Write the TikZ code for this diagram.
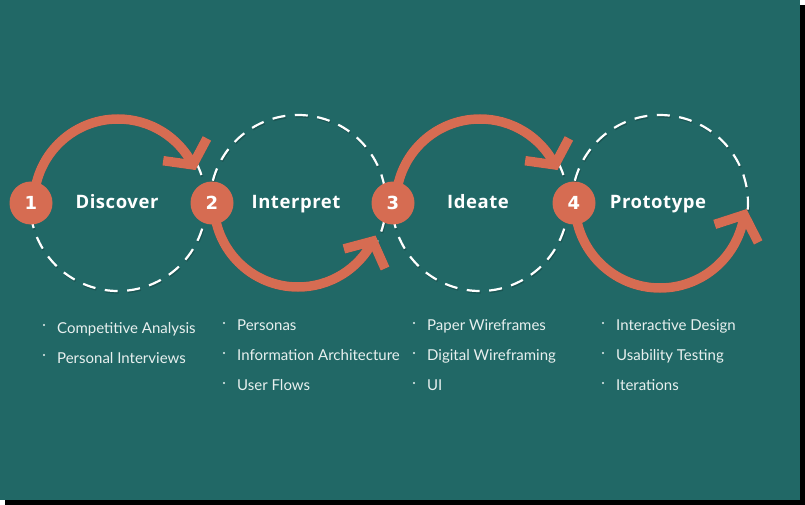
\documentclass[tikz,border=0pt]{standalone}
\usepackage{fontspec}
\setmainfont{Lato}
\newfontfamily\headfont{Open Sans}[LetterSpace=3]
\newfontfamily\numfont{DejaVu Sans}
\usetikzlibrary{calc}
\definecolor{bg}{RGB}{33,104,102}
\definecolor{rust}{RGB}{214,108,82}
\definecolor{listtext}{RGB}{232,240,239}

\begin{document}
\begin{tikzpicture}[x=1pt,y=-1pt,
  ring/.style={white, line width=2.2pt, dash pattern=on 13pt off 9.5pt},
  ringshadow/.style={black, opacity=0.18, line width=2.2pt, dash pattern=on 13pt off 9.5pt},
  loop/.style={rust, line width=9.5pt},
  loopshadow/.style={black, opacity=0.2, line width=9.5pt},
  badge/.style={circle, fill=rust, minimum size=43pt, inner sep=0pt, text=white,
    font=\numfont\bfseries\fontsize{18}{18}\selectfont},
  stage/.style={anchor=base, inner sep=0pt, text=white,
    font=\headfont\bfseries\fontsize{18.5}{19}\selectfont},
  item/.style={anchor=base west, inner sep=0pt, text=listtext,
    font=\fontsize{15}{17}\selectfont},
]
% card with its drop shadow
\fill[black] (5,5) rectangle (805,505);
\fill[bg] (0,0) rectangle (800,500);
\useasboundingbox (0,0) rectangle (805,505);

% ring centres
\coordinate (c1) at (118,203);
\coordinate (c2) at (298,203);
\coordinate (c3) at (480,203);
\coordinate (c4) at (660,203);

% dashed halves of the rings (the other halves carry the arrows)
\foreach \c/\a/\b in {c1/-27/180, c3/-27/180, c2/180/387, c4/180/368}{
  \draw[ringshadow] ($(\c)+(0.8,1.5)+(\a:88)$) arc[start angle=\a, end angle=\b, radius=88];
  \draw[ring] ($(\c)+(\a:88)$) arc[start angle=\a, end angle=\b, radius=88];
}

% arrow end points
\coordinate (t1) at ($(c1)+(333:84)$);
\coordinate (t2) at ($(c2)+(27:84)$);
\coordinate (t3) at ($(c3)+(333:84)$);
\coordinate (t4) at ($(c4)+(8:85)$);

% shadows of the looping arrows
\begin{scope}[shift={(1,3)}]
  \draw[loopshadow] ($(c1)+(180:84)$) arc[start angle=180, end angle=333, radius=84];
  \draw[loopshadow] ($(c3)+(180:84)$) arc[start angle=180, end angle=333, radius=84];
  \draw[loopshadow] ($(c2)+(180:84)$) arc[start angle=180, end angle=27, radius=84];
  \draw[loopshadow] ($(c4)+(180:85)$) arc[start angle=180, end angle=8, radius=85];
  \draw[loopshadow, line join=miter] ($(t1)+(298:30)$) -- (t1) -- ($(t1)+(188:30)$);
  \draw[loopshadow, line join=miter] ($(t3)+(298:30)$) -- (t3) -- ($(t3)+(188:30)$);
  \draw[loopshadow, line join=miter] ($(t2)+(165:30)$) -- (t2) -- ($(t2)+(66:30)$);
  \draw[loopshadow, line join=miter] ($(t4)+(162:31)$) -- (t4) -- ($(t4)+(63:31)$);
\end{scope}

% looping arrows
\draw[loop] ($(c1)+(180:84)$) arc[start angle=180, end angle=333, radius=84];
\draw[loop] ($(c3)+(180:84)$) arc[start angle=180, end angle=333, radius=84];
\draw[loop] ($(c2)+(180:84)$) arc[start angle=180, end angle=27, radius=84];
\draw[loop] ($(c4)+(180:85)$) arc[start angle=180, end angle=8, radius=85];
\draw[loop, line join=miter] ($(t1)+(298:30)$) -- (t1) -- ($(t1)+(188:30)$);
\draw[loop, line join=miter] ($(t3)+(298:30)$) -- (t3) -- ($(t3)+(188:30)$);
\draw[loop, line join=miter] ($(t2)+(165:30)$) -- (t2) -- ($(t2)+(66:30)$);
\draw[loop, line join=miter] ($(t4)+(162:31)$) -- (t4) -- ($(t4)+(63:31)$);

% numbered badges
\node[badge] (b1) at (31,203) {1};
\node[badge] (b2) at (212,203) {2};
\node[badge] (b3) at (393,203) {3};
\node[badge] (b4) at (574,203) {4};

% stage names
\node[stage] (s1) at (117,208) {Discover};
\node[stage] (s2) at (296,208) {Interpret};
\node[stage] (s3) at (478,208) {Ideate};
\node[stage] (s4) at (658,208) {Prototype};

% activity lists
\node[item] (l11) at (57,333) {Competitive Analysis};
\node[item] (l12) at (57,363) {Personal Interviews};
\node[item] (l21) at (237,330) {Personas};
\node[item] (l22) at (237,360) {Information Architecture};
\node[item] (l23) at (237,390) {User Flows};
\node[item] (l31) at (427,330) {Paper Wireframes};
\node[item] (l32) at (427,360) {Digital Wireframing};
\node[item] (l33) at (427,390) {UI};
\node[item] (l41) at (616,330) {Interactive Design};
\node[item] (l42) at (616,360) {Usability Testing};
\node[item] (l43) at (616,390) {Iterations};

\foreach \p in {(44,325),(44,355),(224,323),(224,353),(224,383),
                (414,323),(414,353),(414,383),(603,323),(603,353),(603,383)}
  \fill[listtext] \p circle[radius=1.1];
\end{tikzpicture}
\end{document}
